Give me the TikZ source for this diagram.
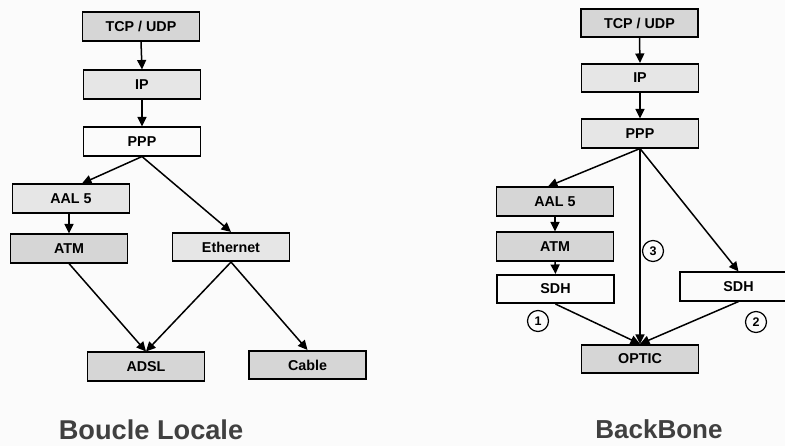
\documentclass[tikz,border=0pt]{standalone}
\usepackage{fontspec}
\setmainfont{Liberation Sans}
\usetikzlibrary{arrows.meta}
\definecolor{gA}{HTML}{D6D6D6}
\definecolor{gB}{HTML}{E6E6E6}
\definecolor{gW}{HTML}{FBFBFB}
\definecolor{titlegray}{HTML}{404040}
\tikzset{
  layer/.style={draw=black, line width=1.6pt, minimum width=117pt, minimum height=28.5pt,
    inner sep=0pt, font=\fontsize{14.3}{16}\selectfont\bfseries},
  dark/.style={layer, fill=gA},
  light/.style={layer, fill=gB},
  white/.style={layer, fill=gW},
  arr/.style={line width=1.5pt, -{Triangle[length=9.5pt,width=9pt]}},
  num/.style={circle, draw=black, line width=1.2pt, minimum size=21pt, inner sep=0pt,
    font=\fontsize{12.5}{14}\selectfont\bfseries},
  caption/.style={text=titlegray, anchor=base, inner sep=0pt, font=\bfseries}
}
\begin{document}
\begin{tikzpicture}[x=1pt, y=-1pt]
\useasboundingbox (0,0) rectangle (785,445);
\clip (0,0) rectangle (785,445);
\fill[white] (-10,-10) rectangle (795,455);

% ---- Boucle Locale ----
\node[dark]  (tcpL)   at (141,26.5)  {TCP / UDP};
\node[light] (ipL)    at (142,84.5)  {IP};
\node[white] (pppL)   at (142,141.5) {PPP};
\node[light] (aalL)   at (71,198.5)  {AAL 5};
\node[dark]  (atmL)   at (69,248.5)  {ATM};
\node[light] (ethL)   at (231,247)   {Ethernet};
\node[dark]  (adslL)  at (146,366.5) {ADSL};
\node[dark]  (cableL) at (307.5,365) {Cable};
\node[caption, font=\fontsize{27.2}{30}\selectfont\bfseries] (capL) at (151,439.5) {Boucle Locale};

\draw[arr] (tcpL.south) -- (ipL.north);
\draw[arr] (ipL.south) -- (pppL.north);
\draw[arr] (pppL.south) -- ([xshift=11pt]aalL.north);
\draw[arr] (pppL.south) -- (ethL.north);
\draw[arr] ([xshift=-2pt]aalL.south) -- (atmL.north);
\draw[arr] (atmL.south) -- (adslL.north);
\draw[arr] (ethL.south) -- (adslL.north);
\draw[arr] (ethL.south) -- (cableL.north);

% ---- BackBone ----
\node[dark]  (tcpR)  at (639.5,23)    {TCP / UDP};
\node[light] (ipR)   at (640,78)      {IP};
\node[light] (pppR)  at (640,133.5)   {PPP};
\node[dark]  (aalR)  at (555,201.5)   {AAL 5};
\node[dark]  (atmR)  at (555,246.5)   {ATM};
\node[white] (sdhL)  at (555.5,289)   {SDH};
\node[white] (sdhR)  at (738.5,286.5) {SDH};
\node[dark]  (optic) at (640,359)     {OPTIC};
\node[caption, font=\fontsize{26}{30}\selectfont\bfseries] (capR) at (659,438.5) {BackBone};

\draw[arr] (tcpR.south) -- (ipR.north);
\draw[arr] (ipR.south) -- (pppR.north);
\draw[arr] (pppR.south) -- ([xshift=-7pt]aalR.north);
\draw[arr] (pppR.south) -- (optic.north);
\draw[arr] (pppR.south) -- (sdhR.north);
\draw[arr] (aalR.south) -- (atmR.north);
\draw[arr] (atmR.south) -- (sdhL.north);
\draw[arr] (sdhL.south) -- (optic.north);
\draw[arr] (sdhR.south) -- (optic.north);

\node[num] (n1) at (538,321) {1};
\node[num] (n2) at (756,322) {2};
\node[num] (n3) at (653,251) {3};
\end{tikzpicture}
\end{document}
